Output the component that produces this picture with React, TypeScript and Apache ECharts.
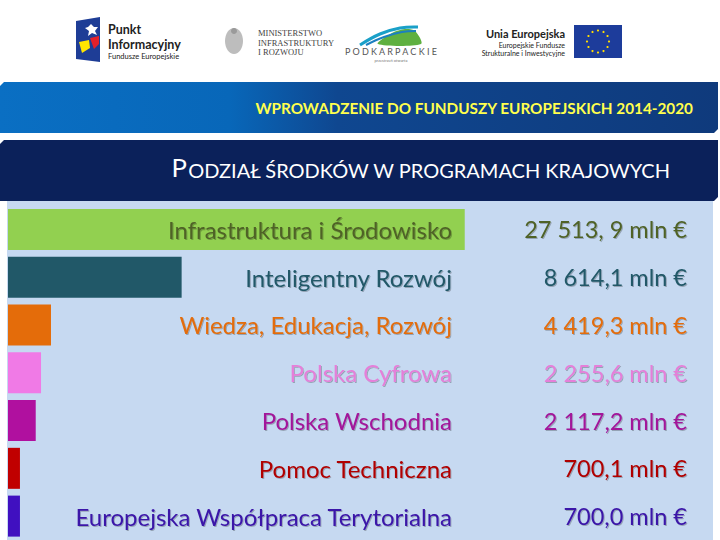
import React, { useEffect, useRef } from "react";
import * as echarts from "echarts";

// Programme names (top to bottom)
const categories = [
  "Infrastruktura i Środowisko",
  "Inteligentny Rozwój",
  "Wiedza, Edukacja, Rozwój",
  "Polska Cyfrowa",
  "Polska Wschodnia",
  "Pomoc Techniczna",
  "Europejska Współpraca Terytorialna",
];
// Allocations in mln EUR, as printed on the slide
const amounts = [27513.9, 8614.1, 4419.3, 2255.6, 2117.2, 700.1, 700.0];
const amountLabels = [
  "27 513, 9 mln €",
  "8 614,1 mln €",
  "4 419,3 mln €",
  "2 255,6 mln €",
  "2 117,2 mln €",
  "700,1 mln €",
  "700,0 mln €",
];
// The slide's bars are not drawn to scale; these are the bar lengths as read
// off the picture, expressed in the same units (green bar = its amount).
const barLengths = [27513.9, 10460, 2590, 1990, 1670, 720, 720];
const barColors = ["#92d050", "#215868", "#e46c0a", "#f07ae6", "#b0109f", "#c00000", "#4010c0"];
const textColors = ["#4f6228", "#215868", "#e36c09", "#e57fd9", "#a2159a", "#b00000", "#3a14a8"];
const axisMax = 30000;

export default function App() {
  const ref = useRef<HTMLDivElement>(null);
  useEffect(() => {
    if (!ref.current) return;
    const chart = echarts.init(ref.current, null, { renderer: "svg" });
    const font = "Lato, 'Open Sans', sans-serif";

    const stars: any[] = [];
    for (let i = 0; i < 12; i++) {
      const a = (i / 12) * Math.PI * 2;
      stars.push({
        type: "circle",
        shape: { cx: 598 + Math.cos(a) * 11, cy: 41.5 + Math.sin(a) * 11, r: 1.1 },
        style: { fill: "#ffdd00" },
        z: 3,
      });
    }

    const graphic: any[] = [
      { type: "rect", shape: { x: 0, y: 0, width: 720, height: 540 }, style: { fill: "#ffffff" }, z: -10 },
      // Punkt Informacyjny logo
      { type: "polygon", shape: { points: [[76, 21], [100, 17], [100, 62], [76, 59]] }, style: { fill: "#1e3d96" }, z: 1 },
      { type: "polygon", shape: { points: [[88, 27], [91, 24], [94, 27], [98, 27], [95, 31], [97, 35], [92, 33], [88, 36], [89, 31], [85, 28]] }, style: { fill: "#ffffff" }, z: 2 },
      { type: "polygon", shape: { points: [[79, 42], [89, 40], [90, 48], [82, 53]] }, style: { fill: "#ffe600" }, z: 2 },
      { type: "polygon", shape: { points: [[90, 38], [99, 36], [99, 44], [94, 49]] }, style: { fill: "#e3202b" }, z: 2 },
      { type: "text", style: { x: 108, y: 29, text: "Punkt", font: "bold 12.5px " + font, fill: "#222", verticalAlign: "middle" }, z: 1 },
      { type: "text", style: { x: 108, y: 44, text: "Informacyjny", font: "bold 12.5px " + font, fill: "#222", verticalAlign: "middle" }, z: 1 },
      { type: "text", style: { x: 108, y: 56.5, text: "Fundusze Europejskie", font: "7.5px " + font, fill: "#222", verticalAlign: "middle" }, z: 1 },
      // Ministerstwo logo
      { type: "ellipse", shape: { cx: 234, cy: 41, rx: 9, ry: 13 }, style: { fill: "#bdbdbd" }, z: 1 },
      { type: "ellipse", shape: { cx: 234, cy: 31, rx: 3, ry: 3 }, style: { fill: "#9a9a9a" }, z: 2 },
      { type: "text", style: { x: 258, y: 33, text: "MINISTERSTWO", font: "8.5px 'Liberation Serif', serif", fill: "#444", verticalAlign: "middle" }, z: 1 },
      { type: "text", style: { x: 258, y: 42.5, text: "INFRASTRUKTURY", font: "8.5px 'Liberation Serif', serif", fill: "#444", verticalAlign: "middle" }, z: 1 },
      { type: "text", style: { x: 258, y: 52, text: "I ROZWOJU", font: "8.5px 'Liberation Serif', serif", fill: "#444", verticalAlign: "middle" }, z: 1 },
      // Podkarpackie logo
      { type: "polygon", shape: { points: [[378, 44], [392, 33], [405, 29], [415, 31], [421, 44]], smooth: 0.3 }, style: { fill: "#5fb040" }, z: 1 },
      { type: "polyline", shape: { points: [[360, 45], [380, 34], [400, 28], [418, 27]], smooth: 0.4 }, style: { stroke: "#1aa0c8", lineWidth: 3, fill: "none" }, z: 2 },
      { type: "polyline", shape: { points: [[366, 45], [384, 37], [402, 32], [416, 31]], smooth: 0.4 }, style: { stroke: "#1b7fc0", lineWidth: 2, fill: "none" }, z: 2 },
      { type: "text", style: { x: 391, y: 51, text: "P O D K A R P A C K I E", font: "9px " + font, fill: "#555", align: "center", verticalAlign: "middle" }, z: 1 },
      { type: "text", style: { x: 391, y: 60, text: "przestrzeń otwarta", font: "4px " + font, fill: "#777", align: "center", verticalAlign: "middle" }, z: 1 },
      // Unia Europejska logo
      { type: "text", style: { x: 565, y: 33, text: "Unia Europejska", font: "bold 11px " + font, fill: "#222", align: "right", verticalAlign: "middle" }, z: 1 },
      { type: "text", style: { x: 565, y: 45, text: "Europejskie Fundusze", font: "7px " + font, fill: "#222", align: "right", verticalAlign: "middle" }, z: 1 },
      { type: "text", style: { x: 565, y: 53, text: "Strukturalne i Inwestycyjne", font: "7px " + font, fill: "#222", align: "right", verticalAlign: "middle" }, z: 1 },
      { type: "rect", shape: { x: 574, y: 25, width: 48, height: 33 }, style: { fill: "#1d3c9b" }, z: 1 },
      ...stars,
      // Blue header band
      {
        type: "polygon",
        shape: { points: [[0, 86], [4, 82], [718, 82], [718, 129], [714, 133], [0, 133]] },
        style: {
          fill: new echarts.graphic.LinearGradient(0, 0, 1, 0, [
            { offset: 0, color: "#0a6fc3" },
            { offset: 0.32, color: "#0867b9" },
            { offset: 0.47, color: "#0f4790" },
            { offset: 1, color: "#0f3a7c" },
          ]),
        },
        z: 1,
      },
      {
        type: "text",
        style: { x: 693, y: 108, text: "WPROWADZENIE DO FUNDUSZY EUROPEJSKICH 2014-2020", font: "bold 15.3px " + font, fill: "#ffff4d", align: "right", verticalAlign: "middle" },
        z: 2,
      },
      // Dark title band
      { type: "polygon", shape: { points: [[0, 144], [4, 140], [718, 140], [718, 197], [714, 201], [0, 201]] }, style: { fill: "#0b215a" }, z: 1 },
      {
        type: "text",
        style: {
          x: 670,
          y: 180,
          align: "right",
          verticalAlign: "bottom",
          text: "{b|P}{s|ODZIAŁ ŚRODKÓW W PROGRAMACH KRAJOWYCH}",
          rich: {
            b: { font: "25.6px " + font, fill: "#ffffff", verticalAlign: "bottom" },
            s: { font: "20px " + font, fill: "#ffffff", verticalAlign: "bottom" },
          },
        },
        z: 2,
      },
      // Light panel
      { type: "rect", shape: { x: 7, y: 201, width: 706, height: 339 }, style: { fill: "#c6d9f1" }, z: 0 },
    ];

    const shadow = {
      textShadowColor: "rgba(0,0,0,0.25)",
      textShadowBlur: 1,
      textShadowOffsetX: 1,
      textShadowOffsetY: 1,
    };

    chart.setOption({
      animation: false,
      graphic,
      grid: { left: 8, top: 205.5, width: 498, height: 335, containLabel: false },
      xAxis: { type: "value", min: 0, max: axisMax, show: false },
      yAxis: [
        {
          type: "category",
          data: categories,
          inverse: true,
          position: "left",
          offset: -444,
          axisLine: { show: false },
          axisTick: { show: false },
          axisLabel: {
            margin: 0,
            fontFamily: font,
            fontSize: 24,
            color: (_v: any, i: number) => textColors[i],
            ...shadow,
          },
          z: 5,
        },
        {
          type: "category",
          data: amountLabels,
          inverse: true,
          position: "right",
          offset: 181,
          axisLine: { show: false },
          axisTick: { show: false },
          axisLabel: {
            margin: 0,
            align: "right",
            fontFamily: font,
            fontSize: 23.5,
            color: (_v: any, i: number) => textColors[i],
            ...shadow,
          },
          z: 5,
        },
      ],
      series: [
        {
          type: "bar",
          yAxisIndex: 0,
          barWidth: 41,
          z: 2,
          data: barLengths.map((v, i) => ({
            value: v,
            name: categories[i],
            amount: amounts[i],
            itemStyle: { color: barColors[i] },
          })),
        },
      ],
    });
    return () => chart.dispose();
  }, []);
  return <div ref={ref} style={{ position: "absolute", left: 0, top: 0, width: 720, height: 540 }} />;
}
